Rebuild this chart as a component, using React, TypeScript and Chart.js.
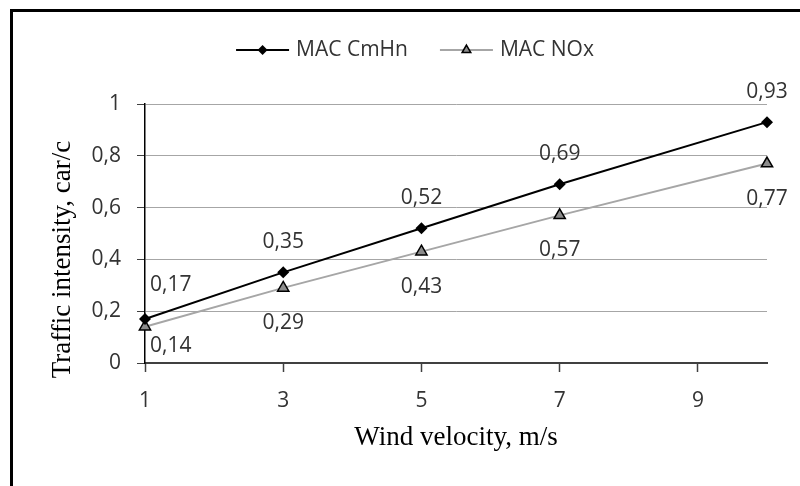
import React, { useEffect, useRef } from 'react';
import { Chart, registerables } from 'chart.js';

Chart.register(...registerables);

const windVelocity = [1, 3, 5, 7, 10];
const macCmHn = [0.17, 0.35, 0.52, 0.69, 0.93];
const macNOx = [0.14, 0.29, 0.43, 0.57, 0.77];
const seriesNames = ['MAC CmHn', 'MAC NOx'];
const xTickValues = [1, 3, 5, 7, 9];
const yTickValues = [0, 0.2, 0.4, 0.6, 0.8, 1];
const xTitle = 'Wind velocity, m/s';
const yTitle = 'Traffic intensity, car/c';

const SANS = '"Open Sans", "Noto Sans", sans-serif';
const SERIF = '"Liberation Serif", "DejaVu Serif", serif';
const TEXT = '#333333';
const GRAY_LINE = '#a6a6a6';

const fmt = (v: number) => String(Math.round(v * 100) / 100).replace('.', ',');

function drawDiamond(ctx: CanvasRenderingContext2D, x: number, y: number, r: number) {
  ctx.beginPath();
  ctx.moveTo(x, y - r);
  ctx.lineTo(x + r, y);
  ctx.lineTo(x, y + r);
  ctx.lineTo(x - r, y);
  ctx.closePath();
  ctx.fillStyle = '#000';
  ctx.fill();
}

function drawTriangle(ctx: CanvasRenderingContext2D, x: number, y: number, r: number) {
  const h = r * 1.5;
  const w = r * Math.sqrt(3);
  ctx.beginPath();
  ctx.moveTo(x, y - h * 2 / 3);
  ctx.lineTo(x + w / 2, y + h / 3);
  ctx.lineTo(x - w / 2, y + h / 3);
  ctx.closePath();
  ctx.fillStyle = '#8c8c8c';
  ctx.fill();
  ctx.strokeStyle = '#000';
  ctx.lineWidth = 1.5;
  ctx.stroke();
}

const decorPlugin = {
  id: 'decor',
  beforeDraw(chart: any) {
    const ctx = chart.ctx as CanvasRenderingContext2D;
    ctx.save();
    ctx.fillStyle = '#fff';
    ctx.fillRect(0, 0, chart.width, chart.height);
    ctx.fillStyle = '#000';
    ctx.fillRect(10, 9, 3, chart.height - 9);
    ctx.fillRect(10, 9, chart.width - 10, 3);
    ctx.restore();
  },
  afterDatasetsDraw(chart: any) {
    const ctx = chart.ctx as CanvasRenderingContext2D;
    ctx.save();
    ctx.font = `21px ${SANS}`;
    ctx.fillStyle = TEXT;
    ctx.textBaseline = 'middle';
    chart.data.datasets.forEach((ds: any, di: number) => {
      const meta = chart.getDatasetMeta(di);
      meta.data.forEach((pt: any, i: number) => {
        const txt = fmt(ds.data[i].y);
        let x = pt.x;
        let y = pt.y;
        if (i === 0) {
          ctx.textAlign = 'left';
          x += 5;
          y += di === 0 ? -34 : 19;
        } else {
          ctx.textAlign = 'center';
          y += di === 0 ? -30 : 35;
        }
        ctx.fillText(txt, x, y);
      });
    });
    ctx.restore();
  },
  afterDraw(chart: any) {
    const ctx = chart.ctx as CanvasRenderingContext2D;
    const area = chart.chartArea;
    ctx.save();
    // legend
    ctx.font = `21px ${SANS}`;
    ctx.textBaseline = 'middle';
    ctx.textAlign = 'left';
    const lineLen = 53;
    const gapText = 7;
    const gapItems = 32;
    const w1 = ctx.measureText(seriesNames[0]).width;
    const w2 = ctx.measureText(seriesNames[1]).width;
    const total = lineLen + gapText + w1 + gapItems + lineLen + gapText + w2;
    const cx = 415;
    const ly = 50;
    let x = cx - total / 2;
    ctx.strokeStyle = '#000';
    ctx.lineWidth = 2;
    ctx.beginPath();
    ctx.moveTo(x, ly);
    ctx.lineTo(x + lineLen, ly);
    ctx.stroke();
    drawDiamond(ctx, x + lineLen / 2, ly, 5);
    ctx.fillStyle = TEXT;
    ctx.fillText(seriesNames[0], x + lineLen + gapText, ly);
    x += lineLen + gapText + w1 + gapItems;
    ctx.strokeStyle = GRAY_LINE;
    ctx.lineWidth = 2;
    ctx.beginPath();
    ctx.moveTo(x, ly);
    ctx.lineTo(x + lineLen, ly);
    ctx.stroke();
    drawTriangle(ctx, x + lineLen / 2, ly, 5);
    ctx.fillStyle = TEXT;
    ctx.fillText(seriesNames[1], x + lineLen + gapText, ly);

    // y axis title
    ctx.translate(63, (area.top + area.bottom) / 2 + 26);
    ctx.rotate(-Math.PI / 2);
    ctx.font = `27px ${SERIF}`;
    ctx.fillStyle = '#000';
    ctx.textAlign = 'center';
    ctx.textBaseline = 'middle';
    ctx.fillText(yTitle, 0, 0);
    ctx.restore();
  },
};

export default function App() {
  const ref = useRef<HTMLCanvasElement | null>(null);

  useEffect(() => {
    if (!ref.current) return;
    const chart = new Chart(ref.current, {
      type: 'line',
      data: {
        datasets: [
          {
            label: seriesNames[0],
            data: windVelocity.map((x, i) => ({ x, y: macCmHn[i] })),
            borderColor: '#000',
            borderWidth: 2,
            pointStyle: 'rectRot',
            pointRadius: 6,
            pointBackgroundColor: '#000',
            pointBorderColor: '#000',
            pointBorderWidth: 0,
            tension: 0,
            clip: false as any,
          },
          {
            label: seriesNames[1],
            data: windVelocity.map((x, i) => ({ x, y: macNOx[i] })),
            borderColor: GRAY_LINE,
            borderWidth: 2,
            pointStyle: 'triangle',
            pointRadius: 6.5,
            pointBackgroundColor: '#8c8c8c',
            pointBorderColor: '#000',
            pointBorderWidth: 1.5,
            tension: 0,
            clip: false as any,
          },
        ],
      },
      options: {
        responsive: false,
        animation: false,
        events: [],
        layout: { padding: { top: 104, left: 0, right: 33, bottom: 0 } },
        plugins: {
          legend: { display: false },
          tooltip: { enabled: false },
        },
        scales: {
          x: {
            type: 'linear',
            min: 1,
            max: 10,
            afterBuildTicks: (scale: any) => {
              scale.ticks = xTickValues.map((value) => ({ value }));
            },
            afterFit: (scale: any) => {
              scale.height = 123;
            },
            ticks: {
              font: { family: SANS, size: 21 },
              color: TEXT,
              padding: 16,
              maxRotation: 0,
              callback: (v: any) => fmt(Number(v)),
            },
            grid: {
              drawOnChartArea: false,
              drawTicks: true,
              tickLength: 9,
              tickColor: '#404040',
              tickWidth: 1.5,
            },
            border: { color: '#404040', width: 2 },
            title: {
              display: true,
              text: xTitle,
              font: { family: SERIF, size: 27 },
              color: '#000',
              padding: { top: 0, bottom: 32 },
            },
          },
          y: {
            type: 'linear',
            min: 0,
            max: 1,
            afterBuildTicks: (scale: any) => {
              scale.ticks = yTickValues.map((value) => ({ value }));
            },
            afterFit: (scale: any) => {
              scale.width = 145;
            },
            ticks: {
              font: { family: SANS, size: 21 },
              color: TEXT,
              padding: 16,
              callback: (v: any) => fmt(Number(v)),
            },
            grid: {
              color: GRAY_LINE,
              lineWidth: 1,
              drawTicks: true,
              tickLength: 8,
              tickColor: '#404040',
            },
            border: { color: '#000', width: 1.5 },
          },
        },
      },
      plugins: [decorPlugin],
    });
    return () => chart.destroy();
  }, []);

  return (
    <div style={{ position: 'absolute', left: 0, top: 0, width: 800, height: 486, background: '#fff' }}>
      <canvas ref={ref} width={800} height={486} style={{ display: 'block', width: 800, height: 486 }} />
    </div>
  );
}
